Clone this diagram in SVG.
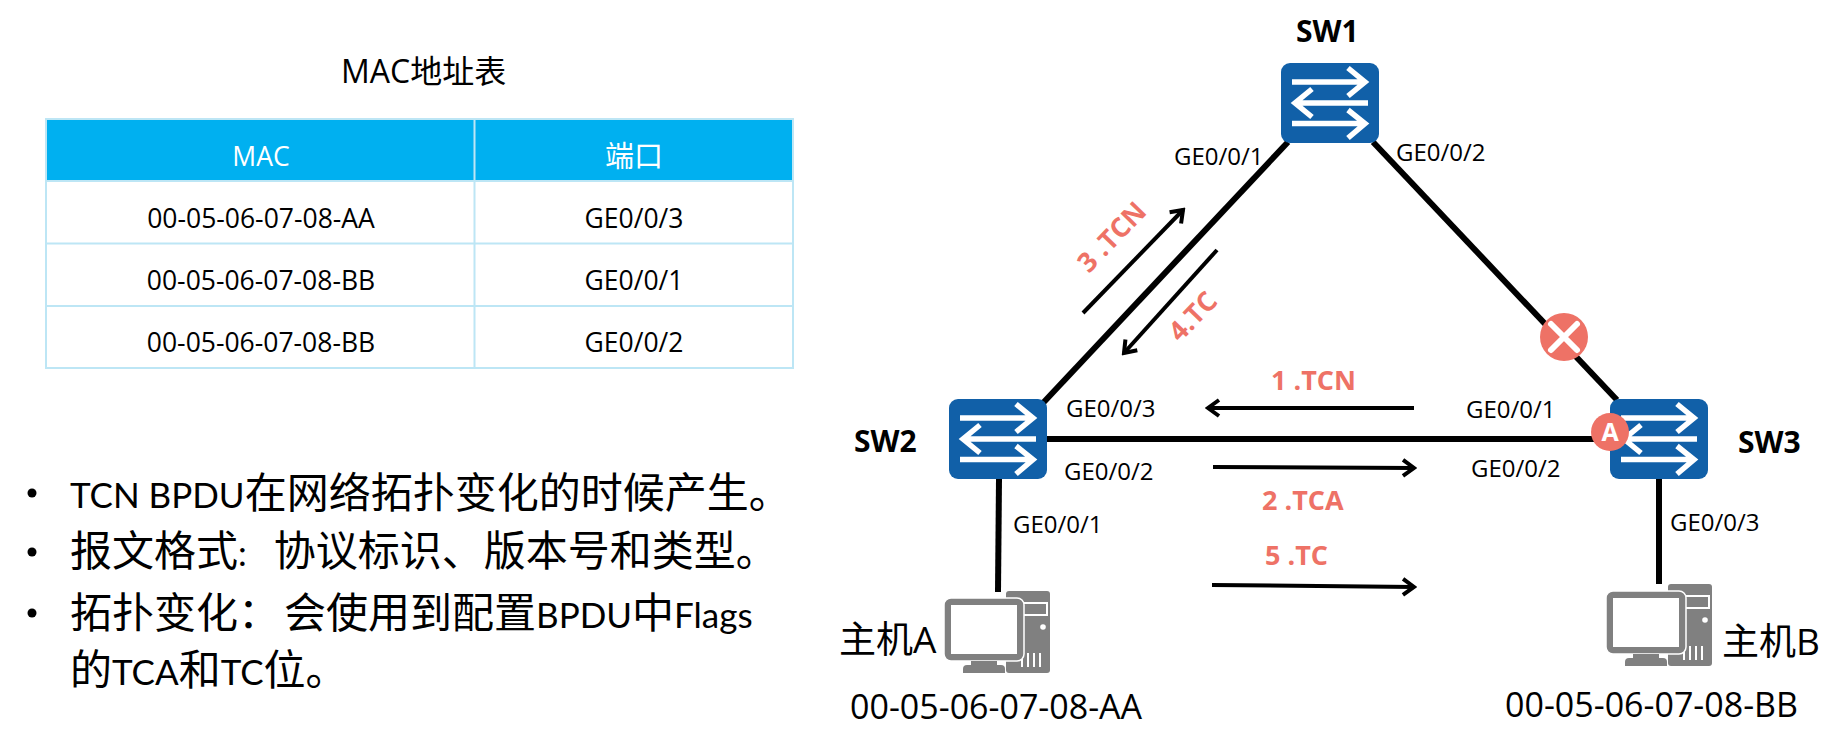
<svg xmlns="http://www.w3.org/2000/svg" width="1843" height="752" viewBox="0 0 1843 752">
<style>
text{font-family:"Open Sans","Noto Sans CJK SC",sans-serif;fill:#000}
.port{font-size:24px}
.sw{font-size:30px;font-weight:700}
.cell{font-size:26.500px;text-anchor:middle}
.big{font-size:42px;font-family:"Noto Sans CJK SC",sans-serif}
.lat{font-family:Lato,sans-serif;font-size:35px}
.step{font-size:27px;font-weight:700;fill:#ee7266}
.host{font-size:37px}
.mac{font-size:34px}
.link{stroke:#000;stroke-width:6;fill:none}
.flow{stroke:#000;stroke-width:4;fill:none;marker-end:url(#arr)}
.ic{fill:none;stroke:#fff;stroke-width:5.500}
.grid{stroke:#bde6f5;stroke-width:2;fill:none}
.g{fill:#808080}
</style>
<defs>
<marker id="arr" viewBox="0 0 20 20" refX="17" refY="10" markerWidth="20" markerHeight="20" markerUnits="userSpaceOnUse" orient="auto">
<path d="M6 2L17 10L6 18" fill="none" stroke="#000" stroke-width="4"/>
</marker>
<g id="swi">
<rect x="0" y="0" width="98" height="80" rx="9" fill="#1160a8"/>
<path class="ic" d="M11 19H84M67 5L84 19L67 33"/>
<path class="ic" d="M87 40H14M31 26L14 40L31 54"/>
<path class="ic" d="M11 60.500H84M67 47L84 60.500L67 75"/>
</g>
<g id="pc">
<rect class="g" x="62" y="0" width="44" height="82" rx="3"/>
<path d="M78 12H103V24H78" fill="none" stroke="#fff" stroke-width="2"/>
<circle cx="99" cy="36" r="2.800" fill="#fff"/>
<path d="M78 62V76M84 62V76M90 62V76M96 62V76" stroke="#fff" stroke-width="2"/>
<rect class="g" x="0" y="7" width="80" height="63" rx="7" stroke="#fff" stroke-width="1.500"/>
<rect x="7" y="14" width="66" height="49" fill="#fff"/>
<rect class="g" x="27" y="70" width="26" height="5"/>
<path class="g" d="M19 82V78a4 4 0 0 1 4-4H57a4 4 0 0 1 4 4V82Z"/>
</g>
</defs>

<g id="table">
<rect x="46" y="119" width="747" height="62" fill="#00b0f0"/>
<rect class="grid" x="46" y="119" width="747" height="249"/>
<path class="grid" d="M46 181H793M46 243.500H793M46 306H793M474.500 119V368"/>
<text class="cell" x="261" y="166" style="fill:#fff">MAC</text>
<text class="cell" x="634" y="167" style="fill:#fff;font-size:29px">端口</text>
<text class="cell" x="261" y="228">00-05-06-07-08-AA</text>
<text class="cell" x="634" y="228">GE0/0/3</text>
<text class="cell" x="261" y="290">00-05-06-07-08-BB</text>
<text class="cell" x="634" y="290">GE0/0/1</text>
<text class="cell" x="261" y="352">00-05-06-07-08-BB</text>
<text class="cell" x="634" y="352">GE0/0/2</text>
</g>
<text x="341" y="83" font-size="32">MAC地址表</text>

<g id="notes">
<circle cx="32" cy="493" r="4.500"/><text class="big" x="70" y="508"><tspan class="lat">TCN BPDU</tspan>在网络拓扑变化的时候产生。</text>
<circle cx="32" cy="552" r="4.500"/><text class="big" x="70" y="566">报文格式<tspan class="lat">: </tspan><tspan dx="18">协议标识、版本号和类型。</tspan></text>
<circle cx="32" cy="613" r="4.500"/><text class="big" x="70" y="628">拓扑变化：<tspan dx="4">会使用到配置</tspan><tspan class="lat">BPDU</tspan>中<tspan class="lat">Flags</tspan></text>
<text class="big" x="70" y="685">的<tspan class="lat">TCA</tspan>和<tspan class="lat">TC</tspan>位。</text>
</g>

<g id="connectors">
<path class="link" d="M1288 142L1043 403"/>
<path class="link" d="M1373 142L1617 400"/>
<path class="link" d="M1047 439H1595"/>
<path class="link" d="M999 479L998 592"/>
<path class="link" d="M1659 479V584"/>
<path class="flow" d="M1083 313L1183 210"/>
<path class="flow" d="M1217 250L1124 353"/>
<path class="flow" d="M1414 408H1208"/>
<path class="flow" d="M1213 467L1414 468"/>
<path class="flow" d="M1212 585L1414 587"/>
</g>

<g id="sw1"><use href="#swi" x="1281" y="63"/><text class="sw" x="1296" y="42">SW1</text></g>
<g id="sw2"><use href="#swi" x="949" y="399"/><text class="sw" x="854" y="452">SW2</text></g>
<g id="sw3"><use href="#swi" x="1610" y="399"/><text class="sw" x="1738" y="453">SW3</text></g>
<g id="block"><circle cx="1564" cy="337" r="24" fill="#ee7266"/><path d="M1551 324L1577 350M1577 324L1551 350" stroke="#fff" stroke-width="6" stroke-linecap="round"/></g>
<g id="alt"><circle cx="1610" cy="432" r="19" fill="#ee7266"/><text x="1610" y="441" font-size="25" font-weight="700" text-anchor="middle" style="fill:#fff">A</text></g>

<g id="hostA"><use href="#pc" x="944" y="591"/><text class="host" x="839" y="653">主机A</text><text class="mac" x="850" y="719">00-05-06-07-08-AA</text></g>
<g id="hostB"><use href="#pc" x="1606" y="584"/><text class="host" x="1722" y="655">主机B</text><text class="mac" x="1505" y="717">00-05-06-07-08-BB</text></g>

<g id="ports">
<text class="port" x="1174" y="165">GE0/0/1</text>
<text class="port" x="1396" y="161">GE0/0/2</text>
<text class="port" x="1066" y="417">GE0/0/3</text>
<text class="port" x="1064" y="480">GE0/0/2</text>
<text class="port" x="1013" y="533">GE0/0/1</text>
<text class="port" x="1466" y="418">GE0/0/1</text>
<text class="port" x="1471" y="477">GE0/0/2</text>
<text class="port" x="1670" y="531">GE0/0/3</text>
</g>
<g id="steps">
<text class="step" transform="translate(1089 274) rotate(-46)">3 .TCN</text>
<text class="step" transform="translate(1180 343) rotate(-46)">4.TC</text>
<text class="step" x="1271" y="390">1 .TCN</text>
<text class="step" x="1262" y="510">2 .TCA</text>
<text class="step" x="1265" y="565">5 .TC</text>
</g>
</svg>
